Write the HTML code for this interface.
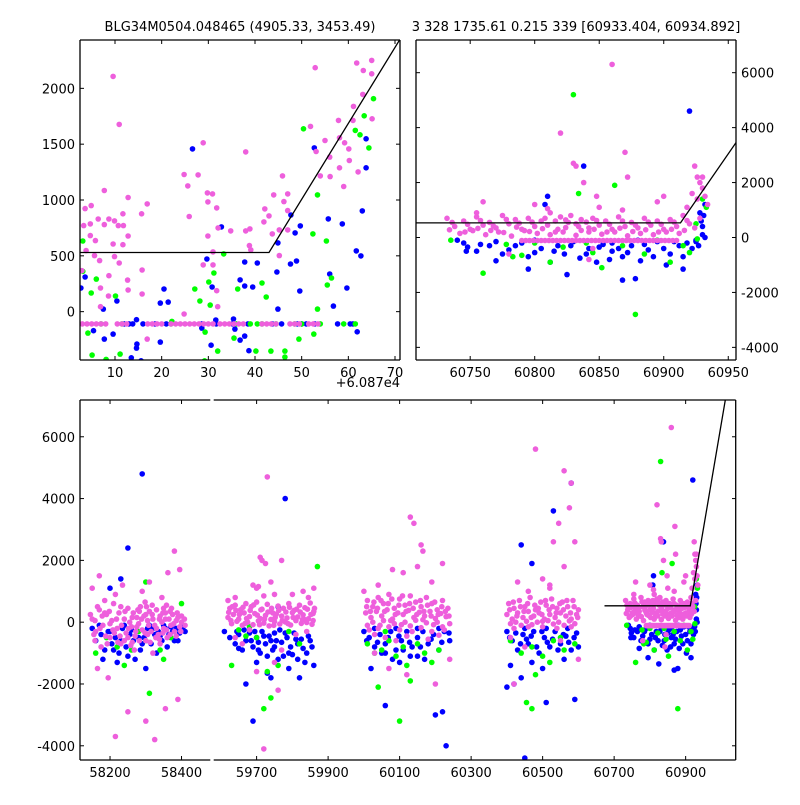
<!DOCTYPE html>
<html><head><meta charset="utf-8"><style>
html,body{margin:0;padding:0;background:#fff;}
svg text{font-family:"DejaVu Sans","Liberation Sans",sans-serif;font-size:13px;fill:#000;}
</style></head><body>
<svg id="chart" width="800" height="800" viewBox="0 0 800 800">
<text x="240" y="31" text-anchor="middle">BLG34M0504.048465 (4905.33, 3453.49)</text>
<text x="576" y="31" text-anchor="middle">3 328 1735.61 0.215 339 [60933.404, 60934.892]</text>
<text x="400" y="387" text-anchor="end">+6.087e4</text>
</svg>
<script>
// ---------------- DATA ----------------
const tlPink = [[9.6,2107],[10.9,1677],[28.9,1512],[38,1431],[52.9,2185],[61.8,2227],[65,2250],[63.2,2160],[65,2130],[63.1,1946],[61.1,1838],[65.1,1727],[61,1713],[51.9,1659],[57.9,1713],[55,1533],[53.1,1434],[58.1,1557],[59.2,1512],[60.1,1458],[60.2,1354],[62.1,1252],[58.1,1288],[59,1121],[54,1216],[56.1,1210],[56,1384],[45.9,1216],[47,1055],[46.2,986],[47,905],[44,1046],[42.1,920],[43,858],[41.9,804],[43.7,696],[45.2,732],[47,732],[45.2,502],[38.9,741],[38,723],[38.8,592],[39.1,553],[34.8,723],[32.1,750],[31.8,929],[29.8,1064],[30.9,1055],[29.9,983],[29.9,678],[31,535],[31,419],[28.9,419],[31.8,188],[32,44],[24.8,1228],[27.8,1225],[25.6,1126],[25.9,852],[24.8,-21],[7.7,1085],[12.8,1022],[16.9,965],[11.7,876],[15.7,876],[6.4,830],[8.7,830],[9.9,813],[3.6,923],[4.9,950],[4.7,786],[3.3,771],[7.7,780],[10.7,771],[11.8,771],[4.7,681],[5.8,636],[9.6,606],[11.7,600],[12.8,678],[3.8,547],[5.6,502],[9.9,493],[6.7,457],[10.9,436],[15.8,373],[8.7,322],[12.7,283],[6.9,212],[12.8,194],[15.8,158],[8.6,140],[6.9,44],[16.9,-246],[2.9,367],
[3,-110],[4,-110],[5,-110],[6,-110],[7,-110],[8,-110],[10.5,-110],[11.5,-110],[12.5,-110],[17,-110],[18,-110],[19,-110],[20,-110],[22,-110],[23,-110],[24,-110],[25,-110],[26,-110],[27,-110],[28,-110],[29,-110],[30,-110],[31,-110],[32.5,-110],[33.5,-110],[34.5,-110],[35.5,-110],[36.5,-110],[37.5,-110],[41.5,-110],[42.5,-110],[43.5,-110],[44.5,-110],[47.5,-110],[48.5,-110],[49.5,-110],[51.5,-110],[52.5,-110],[53.5,-110]];
const tlBlue = [[26.6,1458],[52.7,1467],[63.8,1548],[63.8,1288],[63,902],[47.7,866],[49.7,768],[48.6,705],[55.7,831],[58.7,786],[61.7,544],[62.7,499],[44.9,616],[32.8,759],[29.7,472],[37.8,445],[40.5,436],[47.6,427],[48.9,454],[44.7,355],[56,337],[3.6,310],[36.8,284],[30.8,221],[37.8,230],[39.5,221],[49.6,185],[59.7,212],[20.5,203],[19.7,77],[21.4,86],[56.8,50],[44.9,23],[10.4,95],[7.5,23],[14.6,-72],[31.6,-75],[35.4,-66],[28.6,-147],[35.7,-156],[5.4,-171],[7.7,-246],[9.6,-201],[14.7,-291],[14.6,-326],[19.7,-273],[30.6,-300],[36.8,-255],[37.8,-219],[38.7,-350],[13.5,-413],[15.6,-440],[61.9,-180],[2.7,212],
[12,-110],[13,-110],[13.8,-110],[16,-110],[18.6,-110],[21,-110],[28.6,-110],[31.7,-110],[35.2,-110],[38.5,-110],[43.7,-110],[45.7,-110],[49.1,-110],[50,-110],[51,-110],[52.8,-110],[57.7,-110],[60.4,-110],[61,-110]];
const tlGreen = [[50.4,1638],[65.4,1907],[63.4,1754],[61.5,1623],[62.5,1584],[64.4,1467],[53.4,1046],[52.4,696],[55.3,633],[3.1,633],[33.3,517],[56.4,301],[55.5,239],[31.2,346],[30.1,266],[6,292],[41.5,257],[36.3,203],[27.1,203],[3.1,361],[4.9,167],[10.1,140],[42.4,131],[28.2,95],[30.4,59],[53.4,23],[22.2,-87],[4.2,-192],[35.5,-237],[49.4,-246],[52.6,-201],[29.3,-183],[32,-353],[40.2,-353],[43.4,-353],[46.4,-353],[46.4,-407],[5.1,-389],[11.1,-380],[8.1,-428],[29.2,-440],
[7,-110],[11.5,-110],[22,-110],[36,-110],[39,-110],[40.5,-110],[41.5,-110],[44.5,-110],[48.5,-110],[50,-110],[54,-110],[59,-110],[61.5,-110]];

const trPink = [[60732,700],[60745,600],[60755,750],[60765,550],[60775,800],[60785,650],[60795,700],[60805,600],[60812,900],[60820,750],[60828,800],[60836,650],[60845,700],[60855,600],[60865,750],[60875,550],[60885,700],[60895,600],[60905,650],[60915,800],
[60738,400],[60750,300],[60760,450],[60770,350],[60780,500],[60790,300],[60800,400],[60810,450],[60818,300],[60826,550],[60834,400],[60842,350],[60850,450],[60860,300],[60870,400],[60880,350],[60890,450],[60900,300],[60910,400],[60920,500],
[60742,150],[60752,250],[60762,100],[60772,200],[60782,50],[60792,250],[60802,150],[60812,100],[60822,200],[60832,80],[60842,200],[60852,120],[60862,200],[60872,60],[60882,150],[60892,100],[60902,200],[60912,150],
[60736,550],[60748,480],[60758,620],[60768,420],[60778,660],[60788,520],[60798,560],[60808,700],[60816,600],[60824,640],[60832,500],[60840,560],[60848,620],[60858,480],[60868,600],[60878,450],[60888,560],[60898,480],[60908,560],[60918,620],[60928,700],
[60734,280],[60746,200],[60756,330],[60766,260],[60776,180],[60786,380],[60796,220],[60806,320],[60816,200],[60824,360],[60836,260],[60846,300],[60856,200],[60866,340],[60876,220],[60886,280],[60896,200],[60906,300],[60916,260],[60924,350],
[60790,-110],[60793,-110],[60796,-110],[60799,-110],[60802,-110],[60805,-110],[60808,-110],[60811,-110],[60814,-110],[60817,-110],[60820,-110],[60823,-110],[60826,-110],[60829,-110],[60832,-110],[60835,-110],[60838,-110],[60841,-110],[60844,-110],[60847,-110],[60850,-110],[60853,-110],[60856,-110],[60859,-110],[60862,-110],[60865,-110],[60868,-110],[60871,-110],[60874,-110],[60877,-110],[60880,-110],[60883,-110],[60886,-110],[60889,-110],[60892,-110],[60895,-110],[60898,-110],[60901,-110],[60904,-110],[60907,-110],[60910,-110],
[60860,6300],[60820,3800],[60830,2700],[60832,2600],[60848,1500],[60838,2000],[60870,3100],[60872,2200],[60895,1300],[60924,2600],[60926,2200],[60928,2000],[60930,1800],[60932,1500],[60934,1200],[60922,1600],[60918,1100],[60800,1200],[60780,-600],[60845,-400],[60760,1300],[60850,1100],[60868,1000],[60842,-800],[60900,1500],[60926,1400],[60930,2200],[60755,900],[60810,1050]];
const trBlue = [[60740,-100],[60748,-350],[60755,-500],[60765,-300],[60770,-150],[60780,-450],[60790,-200],[60795,-700],[60805,-400],[60812,-900],[60818,-300],[60823,-600],[60830,-150],[60835,-750],[60842,-400],[60848,-900],[60853,-250],[60860,-500],[60868,-700],[60875,-300],[60882,-850],[60888,-450],[60895,-150],[60905,-600],[60912,-300],[60918,-200],[60925,-100],[60930,400],[60928,900],[60925,-150],[60920,4600],[60838,2600],[60810,1500],[60808,1200],[60825,-1350],[60868,-1550],[60878,-1500],[60902,-1000],[60915,-1150],[60795,-1150],[60770,-850],[60747,-500],[60932,1200],[60930,100],[60860,-200],[60800,-100],[60880,-100],
[60745,-200],[60758,-250],[60775,-600],[60785,-300],[60800,-550],[60815,-500],[60828,-300],[60840,-600],[60850,-350],[60858,-800],[60865,-400],[60872,-550],[60885,-250],[60892,-700],[60900,-400],[60908,-150],[60915,-700],[60922,-400],[60927,-300],[60932,0],[60929,600],[60931,800]];
const trGreen = [[60735,-100],[60760,-1300],[60778,-250],[60790,-650],[60800,-200],[60812,-900],[60822,-350],[60830,5200],[60834,1600],[60845,-550],[60852,-1100],[60862,1900],[60868,-300],[60878,-2800],[60885,-600],[60895,-100],[60905,-900],[60915,-300],[60925,500],[60930,1400],[60933,1100],[60920,-550],[60926,-50],[60783,-700],[60840,-200]];

const aPink = [[58150,100],[58160,-300],[58170,400],[58180,-100],[58190,250],[58200,-500],[58205,50],[58210,600],[58220,-200],[58225,300],[58230,-700],[58240,100],[58245,-350],[58250,450],[58255,0],[58260,-150],[58265,300],[58270,-450],[58275,150],[58280,-50],[58285,500],[58290,-250],[58295,200],[58300,-600],[58305,50],[58310,350],[58315,-300],[58320,100],[58325,-100],[58330,400],[58335,-400],[58340,200],[58345,0],[58350,-200],[58355,300],[58360,-500],[58365,100],[58370,-100],[58375,250],[58380,-300],[58385,50],[58390,150],[58395,-150],[58400,0],[58175,-800],[58215,900],[58235,1200],[58268,-900],[58290,1000],[58320,-1000],[58345,800],[58362,1600],[58380,2300],[58395,1700],[58150,1100],[58165,-1500],[58195,-1800],[58215,-3700],[58250,-2900],[58300,-3200],[58325,-3800],[58355,-2800],[58390,-2500],[58170,1500],[58310,1300],[58185,700],[58340,-700],[58358,550],[58228,-450],[58298,650],[58262,-650],[58338,-550],[58372,450],[58158,-600],[58212,-350],[58282,350],[58318,550],[58348,-350],[58155,-400],[58185,300],[58200,-50],[58230,500],[58250,-500],[58275,-150],[58300,250],[58330,-200],[58355,100],[58385,-450],[58400,200],[58410,-100],[58165,500],[58240,-600],[58305,-400],[58350,450],
[58145,250],[58158,50],[58172,-200],[58188,-450],[58198,350],[58208,-250],[58218,100],[58232,-100],[58242,350],[58252,-200],[58262,150],[58272,-300],[58278,400],[58288,100],[58298,-350],[58308,-100],[58318,250],[58328,-500],[58338,100],[58348,300],[58358,-250],[58368,350],[58378,-50],[58388,300],[58398,-300],[58408,100],[58222,-650],[58258,-750],[58312,-650],[58192,-700],[58282,-600],[58368,-400],[58178,200],[58302,500]];
const aBlue = [[58150,-200],[58160,-600],[58175,-400],[58185,-900],[58195,-300],[58205,-700],[58215,-500],[58225,-1000],[58235,-200],[58245,-800],[58255,-400],[58265,-600],[58275,-300],[58285,-900],[58295,-500],[58305,-200],[58315,-700],[58325,-400],[58335,-300],[58345,-600],[58355,-200],[58365,-400],[58375,-300],[58385,-200],[58395,-350],[58405,-150],[58290,4800],[58250,2400],[58230,1400],[58200,1100],[58300,-1500],[58270,-1200],[58330,-1000],[58220,-1300],[58380,-600],[58360,-800],[58180,-1200],[58240,-100],[58310,-100],[58350,-100],
[58170,-100],[58200,-300],[58230,-600],[58260,-250],[58280,-500],[58320,-200],[58340,-450],[58370,-150],[58390,-600],[58410,-300],[58210,-900],[58250,-1100],[58290,-700]];
const aGreen = [[58190,-500],[58220,-800],[58260,-900],[58300,-600],[58310,-2300],[58340,-900],[58370,-500],[58400,600],[58300,1300],[58240,-1400],[58160,-1000],[58280,-300],[58350,-1200]];

const bPink = [[59625,450],[59640,550],[59655,400],[59670,600],[59685,500],[59700,650],[59715,420],[59730,580],[59745,300],[59760,520],[59775,450],[59790,600],[59805,380],[59820,550],[59835,470],[59850,620],[59860,350],[59620,150],[59635,250],[59650,100],[59665,300],[59680,180],[59695,280],[59710,120],[59725,220],[59740,90],[59755,260],[59770,200],[59785,140],[59800,310],[59815,170],[59830,240],[59845,110],[59858,280],[59630,-50],[59645,30],[59660,-100],[59675,0],[59690,-80],[59705,40],[59720,-30],[59735,-120],[59750,20],[59765,-60],[59780,10],[59795,-90],[59810,50],[59825,-40],[59840,-10],[59855,-70],[59640,-500],[59700,1100],[59710,2100],[59715,2000],[59730,4700],[59740,1300],[59725,1900],[59690,1200],[59705,1150],[59750,900],[59770,2000],[59760,-2200],[59720,-4100],[59700,-1600],[59660,-700],[59750,-1300],[59810,-400],[59830,1000],[59845,800],[59720,850],[59640,800],[59620,700],[59860,1100],[59800,900],[59840,-300],[59680,-250],[59770,-900],
[59622,320],[59632,500],[59642,380],[59652,250],[59662,480],[59672,120],[59682,380],[59692,560],[59702,230],[59712,400],[59722,100],[59732,330],[59742,450],[59752,150],[59762,380],[59772,50],[59782,330],[59792,480],[59802,150],[59812,420],[59822,330],[59832,100],[59842,420],[59852,250],[59862,450],[59628,50],[59668,-40],[59708,-80],[59748,-100],[59788,-50],[59828,80],[59858,50]];
const bBlue = [[59610,-300],[59625,-500],[59640,-700],[59650,-400],[59660,-900],[59670,-600],[59680,-350],[59690,-800],[59700,-500],[59710,-1000],[59715,-300],[59725,-700],[59735,-450],[59745,-900],[59755,-600],[59765,-250],[59775,-1100],[59785,-500],[59795,-800],[59805,-350],[59815,-700],[59825,-550],[59835,-1300],[59845,-450],[59855,-800],[59860,-1400],[59820,-1800],[59790,-1500],[59760,-1200],[59700,-1300],[59670,-2000],[59690,-3200],[59780,4000],[59760,500],[59740,-1800],[59730,-1650],[59650,-850],[59705,-650],[59750,-350],[59800,-1050],
[59645,-300],[59665,-250],[59685,-600],[59695,-300],[59705,-900],[59720,-450],[59730,-1100],[59740,-600],[59750,-800],[59770,-650],[59780,-350],[59790,-1000],[59810,-550],[59830,-850],[59850,-600],[59815,-1200],[59840,-1000]];
const bGreen = [[59630,-1400],[59650,-250],[59670,-450],[59700,-500],[59720,-2800],[59730,-1600],[59760,-1400],[59790,-300],[59870,1800],[59740,-2450],[59820,-700],[59680,-150]];

const cPink = [[60010,700],[60025,500],[60040,800],[60055,600],[60070,900],[60085,450],[60100,750],[60115,550],[60130,850],[60145,650],[60160,500],[60175,800],[60190,600],[60205,400],[60220,700],[60235,450],[60005,300],[60020,150],[60035,350],[60050,200],[60065,400],[60080,100],[60095,300],[60110,250],[60125,380],[60140,150],[60155,320],[60170,200],[60185,350],[60200,120],[60215,280],[60230,180],[60010,-100],[60025,0],[60040,-200],[60055,50],[60070,-150],[60085,-50],[60100,-250],[60115,0],[60130,-120],[60145,60],[60160,-180],[60175,-20],[60190,-300],[60205,0],[60220,-150],[60240,-50],[60030,-400],[60060,-500],[60120,-450],[60180,-550],[60210,-420],[60090,-600],[60130,3400],[60140,3200],[60160,2500],[60165,2300],[60080,1700],[60110,1600],[60220,1900],[60040,1200],[60190,1300],[60000,1000],[60150,1800],[60070,-1500],[60120,-1700],[60200,-2000],[60030,-1000],[60240,-1200],
[60008,500],[60018,350],[60028,650],[60038,450],[60048,700],[60058,350],[60068,600],[60078,750],[60088,250],[60098,550],[60108,850],[60118,350],[60128,600],[60138,450],[60148,250],[60158,700],[60168,350],[60178,550],[60188,200],[60198,650],[60208,250],[60218,500],[60228,350],[60238,200],[60015,-250],[60045,-100],[60075,50],[60105,-80],[60135,-300],[60165,80],[60195,-80],[60225,-250]];
const cBlue = [[60000,-300],[60015,-500],[60030,-800],[60045,-400],[60060,-700],[60075,-300],[60090,-900],[60105,-600],[60120,-300],[60135,-800],[60150,-500],[60165,-300],[60180,-700],[60195,-400],[60210,-900],[60225,-300],[60240,-600],[60020,-1500],[60050,-1000],[60100,-1300],[60170,-1200],[60200,-3000],[60220,-2900],[60230,-4000],[60060,-2700],[60150,-1100],[60030,-200],[60090,-200],[60150,-200],[60210,-200],[60080,-1200],[60130,-1100],
[60008,-600],[60038,-650],[60068,-500],[60098,-450],[60128,-650],[60158,-800],[60188,-550],[60218,-650],[60238,-350],[60110,-900],[60060,-1000]];
const cGreen = [[60010,-700],[60030,-1000],[60050,-900],[60070,-600],[60090,-1100],[60110,-800],[60130,-1900],[60150,-700],[60170,-1000],[60190,-1300],[60210,-900],[60100,-3200],[60040,-2100],[60120,-1400],[60060,-300]];

const dPink = [[60405,600],[60420,450],[60435,700],[60450,500],[60465,800],[60480,400],[60495,650],[60510,550],[60525,750],[60540,450],[60555,650],[60570,500],[60585,700],[60600,400],[60400,250],[60415,100],[60430,300],[60445,150],[60460,350],[60475,200],[60490,300],[60505,100],[60520,250],[60535,150],[60550,300],[60565,200],[60580,100],[60595,250],[60410,-50],[60425,0],[60440,-100],[60455,30],[60470,-80],[60485,0],[60500,-150],[60515,50],[60530,-60],[60545,0],[60560,-100],[60575,40],[60590,-50],[60480,5600],[60560,4900],[60580,4500],[60575,3700],[60530,2600],[60545,3200],[60500,1400],[60430,1300],[60560,1800],[60590,2600],[60460,1000],[60520,1100],[60410,-500],[60450,-800],[60550,-600],[60600,-1200],[60420,-2000],[60520,1200],
[60408,400],[60418,650],[60428,200],[60438,500],[60448,350],[60458,600],[60468,150],[60478,550],[60488,450],[60498,250],[60508,700],[60518,400],[60528,500],[60538,300],[60548,600],[60558,400],[60568,700],[60578,300],[60588,500],[60598,150],[60420,-200],[60460,-150],[60500,30],[60540,-200],[60580,-150]];
const dBlue = [[60400,-300],[60415,-600],[60430,-900],[60445,-400],[60460,-700],[60475,-300],[60490,-1000],[60505,-500],[60520,-800],[60535,-300],[60550,-700],[60565,-450],[60580,-900],[60595,-350],[60410,-1400],[60440,-1800],[60470,-1300],[60500,-1500],[60560,-1200],[60590,-2500],[60530,3600],[60580,4500],[60440,2500],[60470,1900],[60400,-2100],[60420,-2000],[60450,-4400],[60510,-2600],[60450,-200],[60510,-200],[60570,-200],
[60408,-500],[60425,-350],[60438,-700],[60455,-550],[60468,-450],[60483,-800],[60498,-300],[60513,-650],[60528,-550],[60543,-900],[60558,-400],[60573,-650],[60588,-500],[60600,-800]];
const dGreen = [[60410,-600],[60440,-1000],[60470,-800],[60500,-1100],[60530,-600],[60560,-900],[60590,-700],[60480,-1700],[60520,-1300],[60455,-2600],[60470,-2800],[60550,-500]];

// model line: flat level, break time, slope
const modelLevel = [530];
const modelBreak = [60913];
const modelSlope = [68];

const tlXTicks = [10,20,30,40,50,60,70];
const tlYTicks = [0,500,1000,1500,2000];
const trXTicks = [60750,60800,60850,60900,60950];
const yTicksBig = [-4000,-2000,0,2000,4000,6000];
const blXTicksL = [58200,58400];
const blXTicksR = [59700,59900,60100,60300,60500,60700,60900];

// ---------------- DRAWING ----------------
const NS = "http://www.w3.org/2000/svg";
const svg = document.getElementById('chart');
const COL = {pink:'#ee5fdc', blue:'#0000ff', green:'#00ff00'};
function mk(tag, attrs, parent){const e=document.createElementNS(NS,tag);for(const k in attrs)e.setAttribute(k,attrs[k]);(parent||svg).appendChild(e);return e;}
function scale(d0,d1,r0,r1){return v=>r0+(v-d0)/(d1-d0)*(r1-r0);}
let clipN=0;
function panel(name,x0,y0,w,h,xd,yd){
  const g=mk('g',{});
  
  
  const id='clip'+(clipN++);
  const cp=mk('clipPath',{id:id},g);mk('rect',{x:x0,y:y0,width:w,height:h},cp);
  const plot=mk('g',{'clip-path':'url(#'+id+')'},g);
  return {g,plot,x0,y0,w,h,sx:scale(xd[0],xd[1],x0,x0+w),sy:scale(yd[0],yd[1],y0+h,y0)};
}
function dots(p,data,color,name){
  const gg=mk('g',{},p.plot);
  
  
  data.forEach(d=>{
    const c=mk('circle',{cx:p.sx(d[0]).toFixed(1),cy:p.sy(d[1]).toFixed(1),r:2.8,fill:COL[color]},gg);
    
    
  });
}
function model(p,xa,xb,xoff){
  const b=modelBreak[0]-(xoff||0);
  const pts=[[xa,modelLevel[0]],[b,modelLevel[0]],[xb,modelLevel[0]+modelSlope[0]*(xb-b)]];
  const l=mk('polyline',{points:pts.map(q=>p.sx(q[0]).toFixed(1)+','+p.sy(q[1]).toFixed(1)).join(' '),fill:'none',stroke:'#000','stroke-width':1.3},p.plot);
  
  
}
function frame(p,sides){
  const {x0,y0,w,h}=p;
  const s={t:[x0,y0,x0+w,y0],b:[x0,y0+h,x0+w,y0+h],l:[x0,y0,x0,y0+h],r:[x0+w,y0,x0+w,y0+h]};
  sides.split('').forEach(k=>{const a=s[k];const ln=mk('line',{x1:a[0],y1:a[1],x2:a[2],y2:a[3],stroke:'#000','stroke-width':1.3},p.g);
    
    });
}
function xticks(p,ticks){
  ticks.forEach(t=>{const x=p.sx(t);
    mk('line',{x1:x,y1:p.y0+p.h,x2:x,y2:p.y0+p.h-4,stroke:'#000'},p.g);
    mk('line',{x1:x,y1:p.y0,x2:x,y2:p.y0+4,stroke:'#000'},p.g);
    const tx=mk('text',{x:x,y:p.y0+p.h+17,'text-anchor':'middle'},p.g);tx.textContent=t;
    
    
  });
}
function yticks(p,ticks,side){
  ticks.forEach(t=>{const y=p.sy(t);
    mk('line',{x1:p.x0,y1:y,x2:p.x0+4,y2:y,stroke:'#000'},p.g);
    mk('line',{x1:p.x0+p.w,y1:y,x2:p.x0+p.w-4,y2:y,stroke:'#000'},p.g);
    const tx=mk('text',side==='l'?{x:p.x0-5,y:y+5,'text-anchor':'end'}:{x:p.x0+p.w+5,y:y+5,'text-anchor':'start'},p.g);tx.textContent=t;
    
    
  });
}
const YD=[-4460,7190];
// top-left (zoom, offset 60870)
const TL=panel('zoom-panel',80,40,320,320,[2.5,71.07],[-433,2433]);
dots(TL,tlBlue,'blue','blue-series');dots(TL,tlGreen,'green','green-series');dots(TL,tlPink,'pink','pink-series');
model(TL,0,75,60870);
frame(TL,'tblr');xticks(TL,tlXTicks);yticks(TL,tlYTicks,'l');
// top-right
const TR=panel('season-panel',416,40,320,320,[60708,60956],YD);
dots(TR,trBlue,'blue','blue-series');dots(TR,trGreen,'green','green-series');dots(TR,trPink,'pink','pink-series');
model(TR,60700,60960,0);
frame(TR,'tblr');xticks(TR,trXTicks);yticks(TR,yTicksBig,'r');
// bottom left segment
const BL=panel('full-lightcurve-left',80,400,130.3,360,[58116,58480.5],YD);
dots(BL,aBlue,'blue','blue-series');dots(BL,aGreen,'green','green-series');dots(BL,aPink,'pink','pink-series');
frame(BL,'tbl');xticks(BL,blXTicksL);
yTicksBig.forEach(t=>{const y=BL.sy(t);mk('line',{x1:80,y1:y,x2:84,y2:y,stroke:'#000'},BL.g);
  const tx=mk('text',{x:75,y:y+5,'text-anchor':'end'},BL.g);tx.textContent=t;
  
  });
// bottom right segment
const BR=panel('full-lightcurve-right',213.7,400,522,360,[59580,61040],YD);
[[bBlue,bGreen,bPink],[cBlue,cGreen,cPink],[dBlue,dGreen,dPink],[trBlue,trGreen,trPink]].forEach(s=>{
  dots(BR,s[0],'blue','blue-series');dots(BR,s[1],'green','green-series');dots(BR,s[2],'pink','pink-series');
});
{const pts=[[60673,modelLevel[0]],[modelBreak[0],modelLevel[0]],[61040,modelLevel[0]+modelSlope[0]*(61040-modelBreak[0])]];
 const l=mk('polyline',{points:pts.map(q=>BR.sx(q[0]).toFixed(1)+','+BR.sy(q[1]).toFixed(1)).join(' '),fill:'none',stroke:'#000','stroke-width':1.3},BR.plot);
 
 }
frame(BR,'tbr');xticks(BR,blXTicksR);
yTicksBig.forEach(t=>{const y=BR.sy(t);mk('line',{x1:736,y1:y,x2:732,y2:y,stroke:'#000'},BR.g);});
</script>
</body></html>
